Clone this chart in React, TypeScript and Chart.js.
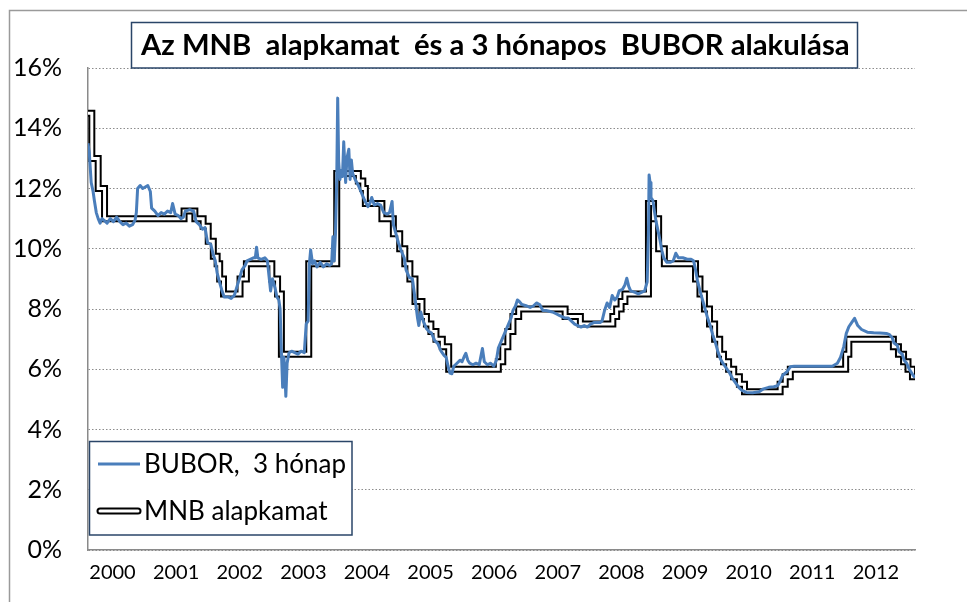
import React, { useEffect, useRef } from 'react';
import { Chart, registerables } from 'chart.js';

Chart.register(...registerables);

const TITLE = 'Az MNB  alapkamat  és a 3 hónapos  BUBOR alakulása';
const SERIES_BUBOR = 'BUBOR,  3 hónap';
const SERIES_MNB = 'MNB alapkamat';

const YEAR_LABELS = [2000, 2001, 2002, 2003, 2004, 2005, 2006, 2007, 2008, 2009, 2010, 2011, 2012];
const Y_TICKS = [0, 2, 4, 6, 8, 10, 12, 14, 16];

// MNB base rate: date of change (decimal year) and new rate (%)
const mnbDates = [
  2000.0, 2000.06, 2000.16, 2000.26, 2001.51, 2001.68, 2001.81, 2001.89, 2001.97, 2002.03,
  2002.07, 2002.13, 2002.39, 2002.49, 2002.89, 2002.98, 2003.04, 2003.47, 2003.91, 2004.25,
  2004.32, 2004.36, 2004.62, 2004.8, 2004.9, 2004.98, 2005.06, 2005.14, 2005.25, 2005.32,
  2005.39, 2005.47, 2005.57, 2005.67, 2006.45, 2006.52, 2006.6, 2006.68, 2006.77, 2007.5,
  2007.74, 2008.25, 2008.31, 2008.38, 2008.44, 2008.81, 2008.89, 2008.97, 2009.06, 2009.55,
  2009.62, 2009.69, 2009.77, 2009.85, 2009.93, 2009.99, 2010.07, 2010.15, 2010.24, 2010.32,
  2010.88, 2010.96, 2011.04, 2011.91, 2011.96, 2012.66, 2012.74, 2012.82, 2012.89, 2012.96,
  2013.0,
];
const mnbRates = [
  14.5, 13.0, 12.0, 11.0, 11.25, 11.0, 10.75, 10.25, 9.75, 9.5,
  9.0, 8.5, 9.0, 9.5, 9.0, 8.5, 6.5, 9.5, 12.5, 12.25,
  12.0, 11.5, 11.0, 10.5, 10.0, 9.5, 9.0, 8.25, 7.75, 7.5,
  7.25, 7.0, 6.75, 6.0, 6.25, 6.75, 7.25, 7.75, 8.0, 7.75,
  7.5, 7.75, 8.0, 8.25, 8.5, 11.5, 11.0, 10.0, 9.5, 9.0,
  8.5, 8.0, 7.5, 7.0, 6.5, 6.25, 6.0, 5.75, 5.5, 5.25,
  5.5, 5.75, 6.0, 6.5, 7.0, 6.75, 6.5, 6.25, 6.0, 5.75,
  5.75,
];

// 3-month BUBOR (decimal year, %)
const buborDates = [
  2000.0, 2000.02, 2000.05, 2000.08, 2000.1, 2000.13, 2000.16, 2000.19, 2000.22, 2000.25,
  2000.3, 2000.35, 2000.4, 2000.45, 2000.5, 2000.55, 2000.6, 2000.65, 2000.7, 2000.74,
  2000.76, 2000.78, 2000.82, 2000.86, 2000.9, 2000.94, 2000.98, 2001.0, 2001.05, 2001.1,
  2001.15, 2001.2, 2001.25, 2001.3, 2001.33, 2001.37, 2001.42, 2001.46, 2001.5, 2001.53,
  2001.6, 2001.66, 2001.7, 2001.75, 2001.8, 2001.84, 2001.88, 2001.93, 2001.97, 2002.0,
  2002.03, 2002.06, 2002.1, 2002.14, 2002.2, 2002.25, 2002.3, 2002.35, 2002.38, 2002.42,
  2002.47, 2002.5, 2002.55, 2002.6, 2002.63, 2002.65, 2002.67, 2002.72, 2002.78, 2002.82,
  2002.85, 2002.87, 2002.9, 2002.94, 2002.97, 2003.0, 2003.02, 2003.04, 2003.06, 2003.08,
  2003.1, 2003.11, 2003.13, 2003.16, 2003.2, 2003.25, 2003.3, 2003.35, 2003.4, 2003.43,
  2003.46, 2003.48, 2003.5, 2003.53, 2003.56, 2003.6, 2003.65, 2003.7, 2003.75, 2003.8,
  2003.83, 2003.85, 2003.87, 2003.89, 2003.91, 2003.925, 2003.94, 2003.96, 2003.98, 2004.0,
  2004.02, 2004.04, 2004.05, 2004.07, 2004.1, 2004.12, 2004.14, 2004.16, 2004.2, 2004.25,
  2004.3, 2004.35, 2004.4, 2004.43, 2004.46, 2004.5, 2004.55, 2004.6, 2004.65, 2004.7,
  2004.74, 2004.78, 2004.8, 2004.84, 2004.88, 2004.93, 2004.97, 2005.0, 2005.05, 2005.1,
  2005.15, 2005.18, 2005.2, 2005.23, 2005.27, 2005.32, 2005.36, 2005.4, 2005.45, 2005.5,
  2005.55, 2005.6, 2005.63, 2005.66, 2005.69, 2005.72, 2005.75, 2005.8, 2005.85, 2005.88,
  2005.92, 2005.94, 2005.97, 2006.0, 2006.05, 2006.1, 2006.15, 2006.2, 2006.23, 2006.28,
  2006.33, 2006.38, 2006.42, 2006.45, 2006.5, 2006.55, 2006.6, 2006.65, 2006.68, 2006.72,
  2006.75, 2006.78, 2006.82, 2006.9, 2006.95, 2007.0, 2007.05, 2007.1, 2007.15, 2007.2,
  2007.3, 2007.35, 2007.4, 2007.45, 2007.5, 2007.55, 2007.6, 2007.65, 2007.7, 2007.75,
  2007.8, 2007.85, 2007.9, 2007.95, 2008.0, 2008.05, 2008.08, 2008.12, 2008.16, 2008.2,
  2008.24, 2008.28, 2008.32, 2008.35, 2008.4, 2008.44, 2008.47, 2008.5, 2008.53, 2008.6,
  2008.65, 2008.7, 2008.75, 2008.79, 2008.81, 2008.82, 2008.835, 2008.85, 2008.88, 2008.9,
  2008.93, 2008.96, 2008.99, 2009.02, 2009.05, 2009.1, 2009.15, 2009.2, 2009.24, 2009.28,
  2009.35, 2009.42, 2009.48, 2009.52, 2009.55, 2009.58, 2009.62, 2009.66, 2009.7, 2009.74,
  2009.78, 2009.82, 2009.86, 2009.9, 2009.94, 2009.98, 2010.03, 2010.08, 2010.13, 2010.18,
  2010.23, 2010.28, 2010.35, 2010.45, 2010.55, 2010.62, 2010.7, 2010.78, 2010.84, 2010.88,
  2010.92, 2010.98, 2011.04, 2011.1, 2011.3, 2011.5, 2011.7, 2011.78, 2011.83, 2011.88,
  2011.92, 2011.96, 2012.02, 2012.05, 2012.1, 2012.16, 2012.25, 2012.35, 2012.45, 2012.55,
  2012.6, 2012.64, 2012.67, 2012.72, 2012.75, 2012.8, 2012.83, 2012.87, 2012.9, 2012.94,
  2012.97, 2013.0,
];
const buborRates = [
  13.5, 13.2, 12.2, 11.9, 11.6, 11.2, 11.0, 10.85, 11.0, 10.95,
  10.85, 11.0, 10.9, 11.05, 10.9, 10.8, 10.85, 10.75, 10.8, 10.95,
  11.2, 12.0, 12.1, 12.0, 12.05, 12.1, 11.9, 11.35, 11.25, 11.1,
  11.2, 11.15, 11.25, 11.2, 11.5, 11.15, 11.1, 11.0, 11.05, 11.25,
  11.3, 11.25, 10.9, 10.8, 10.65, 10.7, 10.2, 10.15, 9.8, 9.6,
  9.2, 8.95, 8.65, 8.4, 8.4, 8.35, 8.45, 8.8, 9.0, 9.3,
  9.45, 9.6, 9.65, 9.7, 9.7, 10.05, 9.7, 9.65, 9.7, 9.6,
  9.0, 8.6, 9.0, 8.7, 8.4, 8.3, 8.0, 6.6, 5.4, 6.4,
  5.6, 5.1, 6.2, 6.55, 6.6, 6.55, 6.5, 6.6, 6.55, 7.5,
  7.6, 9.5, 9.96, 9.5, 9.6, 9.4, 9.55, 9.4, 9.5, 9.45,
  9.5, 10.4, 9.6, 10.5, 12.3, 15.0, 12.9, 12.3, 12.6, 12.4,
  13.55, 12.6, 12.2, 13.0, 13.3, 12.3, 12.95, 12.5, 12.3, 12.1,
  11.85, 11.6, 11.4, 11.5, 11.7, 11.45, 11.5, 11.45, 11.2, 11.15,
  11.2, 11.57, 10.8, 10.5, 10.2, 9.9, 9.7, 9.3, 9.05, 9.0,
  8.2, 7.7, 7.45, 7.9, 7.6, 7.35, 7.25, 7.2, 6.95, 6.85,
  6.6, 6.45, 6.4, 6.1, 5.87, 5.85, 6.1, 6.2, 6.3, 6.25,
  6.45, 6.53, 6.3, 6.2, 6.15, 6.2, 6.15, 6.69, 6.25, 6.15,
  6.2, 6.1, 6.3, 6.7, 6.95, 7.2, 7.45, 7.7, 7.95, 8.1,
  8.3, 8.25, 8.15, 8.1, 8.05, 8.1, 8.2, 8.15, 7.95, 7.95,
  7.9, 7.85, 7.8, 7.75, 7.7, 7.7, 7.6, 7.5, 7.45, 7.4,
  7.45, 7.4, 7.5, 7.55, 7.55, 7.55, 7.6, 7.95, 8.2, 8.05,
  8.45, 8.3, 8.4, 8.6, 8.65, 8.8, 9.02, 8.75, 8.6, 8.55,
  8.5, 8.55, 8.6, 8.9, 10.5, 12.45, 12.2, 11.7, 11.6, 11.3,
  10.9, 10.6, 10.3, 9.95, 9.7, 9.55, 9.55, 9.6, 9.85, 9.7,
  9.7, 9.65, 9.65, 9.6, 9.3, 8.95, 8.6, 8.3, 8.0, 7.7,
  7.45, 7.15, 6.9, 6.6, 6.35, 6.2, 6.05, 5.9, 5.7, 5.55,
  5.4, 5.3, 5.23, 5.22, 5.25, 5.35, 5.4, 5.42, 5.45, 5.6,
  5.8, 5.9, 6.08, 6.1, 6.1, 6.1, 6.1, 6.2, 6.4, 6.75,
  7.19, 7.41, 7.6, 7.69, 7.45, 7.32, 7.23, 7.21, 7.2, 7.19,
  7.15, 7.05, 6.87, 6.8, 6.58, 6.5, 6.3, 6.2, 6.04, 5.9,
  5.8, 5.72,
];

const BLUE = '#4A7EBB';
const AXIS_GREY = '#8a8a8a';
const GRID_GREY = '#8c8c8c';
const NAVY = '#2a4568';
const FONT = 'Lato, "Open Sans", sans-serif';
const LABEL_SHIFT = 0.385;

const framePlugin = {
  id: 'frame',
  beforeDraw(chart: any) {
    const ctx = chart.ctx;
    ctx.save();
    ctx.fillStyle = '#ffffff';
    ctx.fillRect(0, 0, chart.width, chart.height);
    ctx.strokeStyle = '#9a9a9a';
    ctx.lineWidth = 1.5;
    ctx.strokeRect(9.5, 10.5, chart.width + 100, chart.height + 100);
    ctx.restore();
  },
};

const titlePlugin = {
  id: 'boxTitle',
  afterDraw(chart: any) {
    const ctx = chart.ctx;
    ctx.save();
    ctx.fillStyle = '#ffffff';
    ctx.fillRect(131, 22, 727, 46);
    ctx.strokeStyle = NAVY;
    ctx.lineWidth = 1.5;
    ctx.strokeRect(131.5, 22.5, 726, 45.5);
    let size = 30;
    ctx.font = `bold ${size}px ${FONT}`;
    const w = ctx.measureText(TITLE).width;
    if (w > 709) {
      size = (size * 709) / w;
      ctx.font = `bold ${size}px ${FONT}`;
    }
    ctx.fillStyle = '#000';
    ctx.textBaseline = 'alphabetic';
    ctx.textAlign = 'left';
    ctx.fillText(TITLE, 141, 55);
    ctx.restore();
  },
};

const legendPlugin = {
  id: 'boxLegend',
  afterDraw(chart: any) {
    const ctx = chart.ctx;
    ctx.save();
    ctx.fillStyle = '#ffffff';
    ctx.fillRect(89, 441, 263, 94);
    ctx.strokeStyle = NAVY;
    ctx.lineWidth = 1.5;
    ctx.strokeRect(89.5, 441.5, 262.5, 93.5);
    // BUBOR sample
    ctx.strokeStyle = BLUE;
    ctx.lineWidth = 3;
    ctx.beginPath();
    ctx.moveTo(98, 464);
    ctx.lineTo(140, 464);
    ctx.stroke();
    // MNB double-line sample
    ctx.lineCap = 'round';
    ctx.strokeStyle = '#000';
    ctx.lineWidth = 7;
    ctx.beginPath();
    ctx.moveTo(100, 511);
    ctx.lineTo(138, 511);
    ctx.stroke();
    ctx.strokeStyle = '#fff';
    ctx.lineWidth = 3;
    ctx.beginPath();
    ctx.moveTo(100, 511);
    ctx.lineTo(138, 511);
    ctx.stroke();
    ctx.fillStyle = '#000';
    ctx.font = `26px ${FONT}`;
    ctx.textBaseline = 'alphabetic';
    ctx.fillText(SERIES_BUBOR, 144, 473);
    ctx.fillText(SERIES_MNB, 144, 520);
    ctx.restore();
  },
};

export default function App() {
  const ref = useRef<HTMLCanvasElement | null>(null);

  useEffect(() => {
    if (!ref.current) return;
    const mnbPts = mnbDates.map((d, i) => ({ x: d, y: mnbRates[i] }));
    const buborPts = buborDates.map((d, i) => ({ x: d, y: buborRates[i] }));
    const chart = new Chart(ref.current, {
      type: 'line',
      data: {
        datasets: [
          {
            label: SERIES_BUBOR,
            data: buborPts,
            borderColor: BLUE,
            backgroundColor: BLUE,
            borderWidth: 3,
            pointRadius: 0,
            tension: 0,
            borderJoinStyle: 'round',
          },
          {
            label: 'mnb-inner',
            data: mnbPts,
            borderColor: '#ffffff',
            borderWidth: 3,
            pointRadius: 0,
            stepped: 'before',
            borderJoinStyle: 'miter',
          },
          {
            label: SERIES_MNB,
            data: mnbPts,
            borderColor: '#000000',
            borderWidth: 7,
            pointRadius: 0,
            stepped: 'before',
            borderJoinStyle: 'miter',
          },
        ],
      } as any,
      options: {
        responsive: false,
        animation: false,
        devicePixelRatio: 1,
        layout: { padding: { left: 0, right: 52, top: 68, bottom: 0 } },
        plugins: { legend: { display: false }, title: { display: false }, tooltip: { enabled: false } },
        scales: {
          x: {
            type: 'linear',
            min: 2000,
            max: 2013,
            grid: { display: false, drawTicks: false },
            border: { display: true, color: AXIS_GREY, width: 1.5 },
            afterBuildTicks: (s: any) => {
              s.ticks = YEAR_LABELS.map((y) => ({ value: y + LABEL_SHIFT }));
            },
            afterFit: (s: any) => {
              s.height = 52;
            },
            ticks: {
              autoSkip: false,
              maxRotation: 0,
              minRotation: 0,
              padding: 11,
              color: '#000',
              font: { family: FONT, size: 20 },
              callback: (v: any) => String(Math.floor(Number(v))),
            },
          },
          y: {
            type: 'linear',
            min: 0,
            max: 16,
            afterBuildTicks: (s: any) => {
              s.ticks = Y_TICKS.map((v) => ({ value: v }));
            },
            afterFit: (s: any) => {
              s.width = 88;
            },
            grid: { color: GRID_GREY, lineWidth: 1, drawTicks: false },
            border: { display: true, color: AXIS_GREY, width: 1.5, dash: [1.5, 2] },
            ticks: {
              padding: 26,
              color: '#000',
              font: { family: FONT, size: 25 },
              callback: (v: any) => `${v}%`,
            },
          },
        },
      } as any,
      plugins: [framePlugin, titlePlugin, legendPlugin],
    });
    return () => chart.destroy();
  }, []);

  return (
    <div style={{ position: 'fixed', left: 0, top: 0, width: 967, height: 602, background: '#fff' }}>
      <canvas ref={ref} width={967} height={602} style={{ display: 'block', width: 967, height: 602 }} />
    </div>
  );
}
